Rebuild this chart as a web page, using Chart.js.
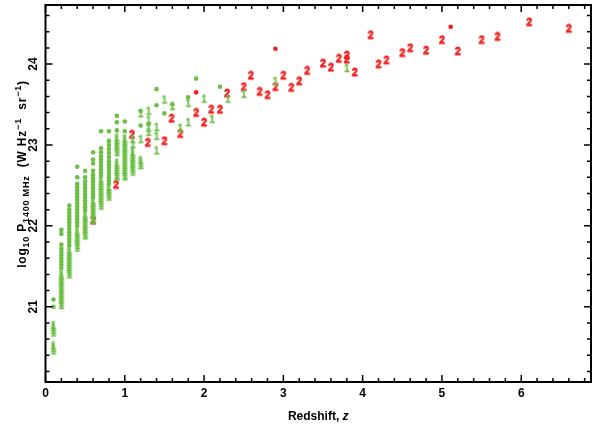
<!DOCTYPE html>
<html><head><meta charset="utf-8">
<script src="https://cdn.jsdelivr.net/npm/chart.js@4/dist/chart.umd.min.js"></script>
<style>html,body{margin:0;padding:0;background:#fff;overflow:hidden}</style>
</head><body>
<canvas id="c" width="596" height="429"></canvas>
<script>
// ---------- data (redshift z, log10 P1400) ----------
const greenDotZ = [
 0.1,0.1,
 0.2,0.2,0.2,0.2,0.2,0.2,0.2,0.2,0.2,0.2,
 0.3,0.3,0.3,0.3,0.3,0.3,0.3,0.3,0.3,0.3,0.3,0.3,0.3,
 0.4,0.4,0.4,0.4,0.4,0.4,0.4,0.4,0.4,0.4,0.4,0.4,0.4,0.4,0.4,0.4,
 0.5,0.5,0.5,0.5,0.5,0.5,0.5,0.5,0.5,0.5,0.5,0.5,
 0.6,0.6,0.6,0.6,0.6,0.6,0.6,0.6,0.6,0.6,0.6,0.6,
 0.7,0.7,0.7,0.7,0.7,0.7,0.7,0.7,0.7,0.7,
 0.8,0.8,0.8,0.8,0.8,0.8,0.8,0.8,0.8,0.8,0.8,0.8,0.8,0.8,
 0.9,0.9,0.9,
 1.0,1.0,
 1.2,1.2, 1.3, 1.4,1.4, 1.5, 1.6, 1.8, 1.9, 2.2];
const greenDotP = [
 21.09,21.0,
 21.95,21.9,21.77,21.72,21.68,21.64,21.6,21.56,21.52,21.48,
 22.25,22.2,22.16,22.12,22.08,22.04,22.0,21.96,21.92,21.88,21.84,21.8,21.76,
 22.73,22.6,22.52,22.48,22.44,22.4,22.36,22.32,22.28,22.24,22.2,22.16,22.12,22.08,22.04,22.0,
 22.68,22.6,22.55,22.51,22.47,22.43,22.39,22.35,22.31,22.27,22.23,22.19,
 22.91,22.82,22.77,22.68,22.63,22.59,22.55,22.51,22.47,22.43,22.39,22.35,
 23.17,22.96,22.91,22.86,22.82,22.78,22.74,22.7,22.66,22.62,
 23.17,23.05,23.0,22.95,22.9,22.85,22.8,22.76,22.72,22.68,22.64,22.6,22.56,22.52,
 23.36,23.28,23.18,
 23.29,23.17,
 23.42,23.24, 23.26, 23.69,23.49, 23.39, 23.5, 23.59, 23.82, 23.72];

const greenOneZ = [
 0.1,0.1,0.1,0.1,0.1,0.1,0.1,
 0.2,0.2,0.2,0.2,0.2,0.2,0.2,0.2,0.2,0.2,0.2,0.2,0.2,0.2,
 0.3,0.3,0.3,0.3,0.3,0.3,0.3,0.3,0.3,0.3,0.3,
 0.4,0.4,0.4,0.4,0.4,0.4,0.4,0.4,
 0.5,0.5,0.5,0.5,0.5,0.5,0.5,0.5,0.5,0.5,
 0.6,0.6,0.6,0.6,0.6,0.6,0.6,0.6,0.6,
 0.7,0.7,0.7,0.7,0.7,0.7,0.7,0.7,0.7,0.7,0.7,0.7,
 0.8,0.8,0.8,0.8,0.8,
 0.9,0.9,0.9,0.9,0.9,0.9,0.9,0.9,0.9,0.9,0.9,0.9,0.9,0.9,
 1.0,1.0,1.0,1.0,1.0,1.0,1.0,1.0,1.0,1.0,1.0,1.0,1.0,1.0,1.0,1.0,1.0,
 1.1,1.1,1.1,1.1,1.1,1.1,1.1,1.1,1.1,1.1,1.1,
 1.2,1.2,1.2,1.2,1.2,
 1.3,1.3,1.3,1.3,
 1.4,1.4,1.4,
 1.5,1.6,1.7,1.8,1.8,2.0,2.1,2.3,2.5,2.9,3.8];
const greenOneP = [
 20.76,20.73,20.70,20.67,20.51,20.48,20.45,
 21.4,21.37,21.34,21.31,21.28,21.25,21.22,21.19,21.16,21.13,21.1,21.07,21.04,21.01,
 21.69,21.66,21.63,21.6,21.57,21.54,21.51,21.48,21.45,21.42,21.39,
 21.93,21.9,21.87,21.84,21.81,21.78,21.75,21.72,
 22.13,22.1,22.07,22.04,22.01,21.98,21.95,21.92,21.89,21.87,
 22.3,22.27,22.24,22.21,22.18,22.15,22.12,22.09,22.06,
 22.57,22.54,22.51,22.48,22.45,22.42,22.39,22.36,22.33,22.3,22.27,22.24,
 22.47,22.44,22.41,22.38,22.35,
 23.08,23.05,23.02,22.99,22.96,22.93,22.9,22.77,22.74,22.71,22.68,22.65,22.62,22.6,
 23.07,23.04,23.01,22.98,22.95,22.92,22.89,22.86,22.83,22.8,22.77,22.74,22.71,22.68,22.65,22.62,22.6,
 23.06,23.0,22.9,22.87,22.84,22.81,22.78,22.75,22.72,22.69,22.66,
 23.38,23.06,22.8,22.77,22.74,
 23.41,23.3,23.2,23.15,
 23.21,23.1,22.92,
 23.55,23.47,23.2,23.51,23.27,23.56,23.31,23.56,23.62,23.78,23.94];

const redTwoZ = [0.6,0.89,1.09,1.29,1.5,1.59,1.7,1.9,2.0,2.09,2.2,2.29,2.5,2.59,2.7,2.8,2.9,3.0,3.1,3.2,3.3,3.5,3.6,3.7,3.8,3.8,3.9,4.1,4.2,4.3,4.5,4.6,4.8,5.0,5.2,5.5,5.7,6.1,6.6];
const redTwoP = [22.06,22.5,23.12,23.02,23.04,23.32,23.13,23.39,23.27,23.43,23.43,23.63,23.71,23.85,23.65,23.61,23.71,23.85,23.70,23.78,23.91,24.0,23.95,24.06,24.1,24.05,23.89,24.35,23.99,24.04,24.13,24.19,24.16,24.29,24.15,24.29,24.33,24.51,24.43];

const redDotZ = [1.9,2.9,5.11];
const redDotP = [23.65,24.19,24.46];

const xTickLabels = ['0','1','2','3','4','5','6'];
const yTickLabels = ['21','22','23','24'];
const xTitle = 'Redshift, ';
const xTitleItalic = 'z';

// ---------- styling ----------
const RED = '#f21d1d';
const GREEN = '#6cbf45';
const FONT = '"Liberation Sans", Arial, Helvetica, sans-serif';

function glyph(ch, color, w, h, size, stroke) {
  const c = document.createElement('canvas');
  c.width = w; c.height = h;
  const g = c.getContext('2d');
  g.fillStyle = color;
  g.strokeStyle = color;
  g.lineWidth = stroke;
  g.font = 'bold ' + size + 'px ' + FONT;
  g.textAlign = 'center';
  g.textBaseline = 'middle';
  g.fillText(ch, w / 2, h / 2 + 0.5);
  if (stroke > 0) g.strokeText(ch, w / 2, h / 2 + 0.5);
  return c;
}
const twoGlyph = glyph('2', RED, 10, 12, 10, 0.8);
const oneGlyph = glyph('1', GREEN, 8, 12, 10, 0.3);

const pts = (zs, ps) => zs.map((z, i) => ({x: z, y: ps[i]}));

const frame = {
  id: 'frame',
  afterDatasetsDraw(chart) {
    const {ctx, chartArea: a, scales: {x, y}} = chart;
    ctx.save();
    ctx.strokeStyle = '#000';
    ctx.lineWidth = 1.5;
    for (let i = 0; i * 0.2 <= x.max + 1e-9; i++) {
      const px = x.getPixelForValue(i * 0.2);
      const L = (i % 5 === 0) ? 7 : 4;
      ctx.beginPath();
      ctx.moveTo(px, a.bottom); ctx.lineTo(px, a.bottom - L);
      ctx.moveTo(px, a.top); ctx.lineTo(px, a.top + L);
      ctx.stroke();
    }
    for (let i = Math.ceil(y.min / 0.2 - 1e-9); i * 0.2 <= y.max + 1e-9; i++) {
      const py = y.getPixelForValue(i * 0.2);
      const L = (i % 5 === 0) ? 7 : 4;
      ctx.beginPath();
      ctx.moveTo(a.left, py); ctx.lineTo(a.left + L, py);
      ctx.moveTo(a.right, py); ctx.lineTo(a.right - L, py);
      ctx.stroke();
    }
    ctx.lineWidth = 2;
    ctx.strokeRect(a.left, a.top, a.right - a.left, a.bottom - a.top);

    ctx.fillStyle = '#000';
    ctx.font = 'bold 12px ' + FONT;
    ctx.textAlign = 'center';
    ctx.textBaseline = 'middle';
    xTickLabels.forEach(l => {
      ctx.fillText(l, x.getPixelForValue(Number(l)), a.bottom + 12);
    });
    yTickLabels.forEach(l => {
      const py = y.getPixelForValue(Number(l));
      ctx.save();
      ctx.translate(a.left - 12, py);
      ctx.rotate(-Math.PI / 2);
      ctx.fillText(l, 0, 0);
      ctx.restore();
    });

    ctx.textBaseline = 'alphabetic';
    ctx.textAlign = 'left';
    const f1 = 'bold 12px ' + FONT, f2 = 'italic bold 12px ' + FONT;
    ctx.font = f1; const w1 = ctx.measureText(xTitle).width;
    ctx.font = f2; const w2 = ctx.measureText(xTitleItalic).width;
    const cx = (a.left + a.right) / 2;
    const sx = cx - (w1 + w2) / 2;
    ctx.font = f1; ctx.fillText(xTitle, sx, 420);
    ctx.font = f2; ctx.fillText(xTitleItalic, sx + w1, 420);

    const MAIN = 'bold 12px ' + FONT, SUB = 'bold 9px ' + FONT;
    const pieces = [
      {t: 'log', f: MAIN, d: 0},
      {t: '10', f: SUB, d: 3},
      {t: ' P', f: MAIN, d: 0},
      {t: '1400 MHz', f: SUB, d: 3},
      {t: '  (W Hz', f: MAIN, d: 0},
      {t: '\u22121', f: SUB, d: -5},
      {t: '  sr', f: MAIN, d: 0},
      {t: '\u22121', f: SUB, d: -5},
      {t: ')', f: MAIN, d: 0}
    ];
    ctx.save();
    ctx.letterSpacing = '0.8px';
    let total = 0;
    pieces.forEach(p => { ctx.font = p.f; p.w = ctx.measureText(p.t).width; total += p.w; });
    ctx.translate(26, 174);
    ctx.rotate(-Math.PI / 2);
    let tx = -total / 2;
    pieces.forEach(p => { ctx.font = p.f; ctx.fillText(p.t, tx, p.d); tx += p.w; });
    ctx.restore();
    ctx.restore();
  }
};

new Chart(document.getElementById('c'), {
  type: 'scatter',
  data: {
    datasets: [
      {data: pts(greenDotZ, greenDotP), pointStyle: 'circle', pointRadius: 2.3, backgroundColor: GREEN, borderWidth: 0},
      {data: pts(greenOneZ, greenOneP), pointStyle: oneGlyph, pointRadius: 4},
      {data: pts(redTwoZ, redTwoP), pointStyle: twoGlyph, pointRadius: 4},
      {data: pts(redDotZ, redDotP), pointStyle: 'circle', pointRadius: 2.3, backgroundColor: RED, borderWidth: 0}
    ]
  },
  options: {
    responsive: false,
    animation: false,
    devicePixelRatio: 1,
    events: [],
    layout: {padding: {left: 45.5, top: 4, right: 0, bottom: 47}},
    plugins: {legend: {display: false}, tooltip: {enabled: false}},
    scales: {
      x: {type: 'linear', min: 0, max: 6.88, display: false},
      y: {type: 'linear', min: 20.07, max: 24.73, display: false}
    }
  },
  plugins: [frame]
});
</script>
</body></html>
